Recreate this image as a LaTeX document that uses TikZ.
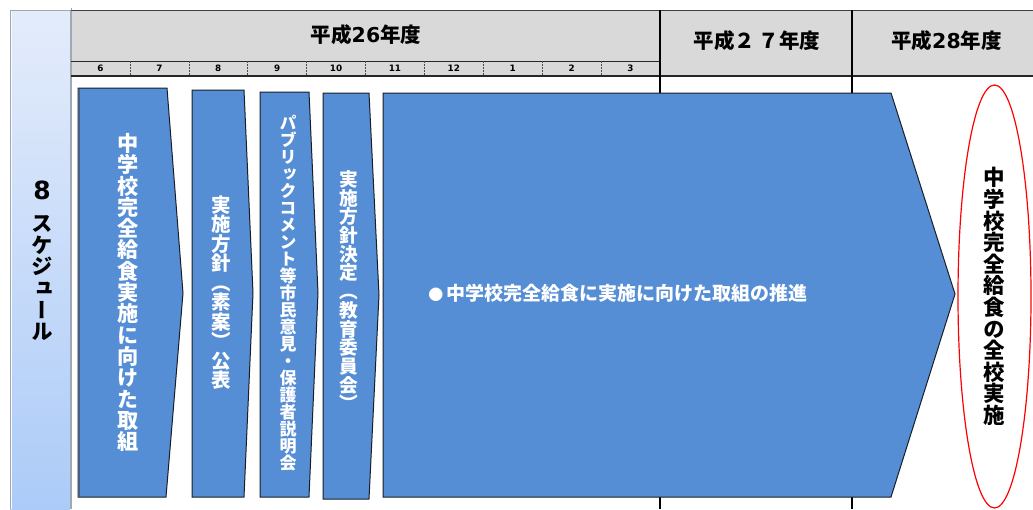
\documentclass[tikz,border=0pt]{standalone}
\usepackage{fontspec}
\setmainfont{Noto Sans CJK JP}
\newfontfamily\jpv{Noto Sans CJK JP}[RawFeature=+vert]
\newfontfamily\dvs{DejaVu Sans}
\ExplSyntaxOn
\NewDocumentCommand\vtxt{O{1em}m}{
  \vbox{\offinterlineskip
    \tl_map_inline:nn {#2} {
      \hbox_to_wd:nn {1.2em} { \hss \vbox_to_ht:nn {#1} { \vss \hbox:n { \smash{\raisebox{-0.38em}{##1}} } \vss } \hss }
    }
  }
}
\ExplSyntaxOff
\definecolor{arrowblue}{RGB}{85,142,213}
\definecolor{arrowline}{RGB}{25,30,40}
\definecolor{hgray}{RGB}{217,217,217}
\definecolor{paneltop}{RGB}{228,236,251}
\definecolor{panelbot}{RGB}{172,203,248}
\definecolor{panelline}{RGB}{160,168,178}
\tikzset{
  arrowbox/.style={fill=arrowblue, draw=arrowline, line width=1pt, line join=miter},
  vlab/.style={inner sep=0pt, text=white, font=\jpv\bfseries},
  month/.style={inner sep=0pt, font=\dvs\bfseries\fontsize{8.8}{9}\selectfont},
  yearlab/.style={inner sep=0pt, font=\bfseries\fontsize{20.5}{21}\selectfont},
}
\begin{document}
\begin{tikzpicture}[x=1pt,y=-1pt]
\useasboundingbox (0,0) rectangle (1033,509);
\fill[white] (0,0) rectangle (1033,509);
% left panel
\shade[top color=paneltop, bottom color=panelbot] (10,10) rectangle (70,509);
\draw[panelline, line width=0.8pt] (10,509) -- (10,10) -- (70,10) -- (70,509);
\draw[white!80!paneltop, line width=1.5pt] (11.5,11) -- (11.5,509);
% header
\fill[hgray] (71,10) rectangle (1033,76);
\draw[panelline, line width=1pt] (71,8) -- (71,509);
\draw[black!75, line width=1pt] (71,10) -- (1033,10);
\draw[black!85, line width=1pt] (71,61) -- (660,61);
\draw[black!85, line width=1.2pt] (71,76) -- (1033,76);
\foreach \k in {1,...,9} {
  \draw[black!70, dash pattern=on 1.5pt off 1.5pt, line width=0.6pt] ({71+58.9*\k},61) -- ({71+58.9*\k},76);
}
\draw[black, line width=1.3pt] (660,10) -- (660,509);
\draw[black, line width=1.3pt] (852,10) -- (852,509);
% month labels
\foreach \m [count=\i from 0] in {6,7,8,9,10,11,12,1,2,3} {
  \node[month] (m\i) at ({71+58.9*(\i+0.5)},68.5) {\m};
}
% year labels
\node[yearlab] (y26) at (366,35) {平成{\dvs 26}年度};
\node[yearlab] (y27) at (757,40.5) {平成２\,７年度};
\node[yearlab] (y28) at (946.5,40.5) {平成{\dvs 28}年度};
% left panel labels
\node[inner sep=0pt, font=\dvs\bfseries\fontsize{25}{25}\selectfont] (eight) at (42,190) {8};
\node[inner sep=0pt, font=\jpv\bfseries\fontsize{21.5}{21.5}\selectfont] (sched) at (42,277.5) {\vtxt[21.6pt]{スケジュール}};
% arrows
\draw[arrowbox] (78,88) -- (167,88) -- (183,293) -- (166,497) -- (78,497) -- cycle;
\draw[color={rgb,255:red,70;green,95;blue,130}, line width=2.2pt] (79.2,88.5) -- (79.2,496.5);
\draw[arrowbox] (192,90) -- (244,90) -- (253,293) -- (244,497) -- (192,497) -- cycle;
\draw[arrowbox] (260,92) -- (309,92) -- (318,293) -- (309,497) -- (260,497) -- cycle;
\draw[arrowbox] (323,93) -- (369,93) -- (379,295) -- (369,499) -- (323,499) -- cycle;
\draw[arrowbox] (383,93) -- (891,93) -- (955,294) -- (891,497) -- (383,497) -- cycle;
% arrow labels
\node[vlab, font=\jpv\bfseries\fontsize{21.2}{21.2}\selectfont] (t1) at (128,292.5) {\vtxt[21.3pt]{中学校完全給食実施に向けた取組}};
\node[vlab, font=\jpv\bfseries\fontsize{19.5}{19.5}\selectfont] (t2) at (221,292.5) {\vtxt[19.5pt]{実施方針（素案）公表}};
\node[vlab, font=\jpv\bfseries\fontsize{17}{17}\selectfont] (t3) at (288,293.5) {\vtxt[17pt]{パブリックコメント等市民意見・保護者説明会}};
\node[vlab, font=\jpv\bfseries\fontsize{18.7}{18.7}\selectfont] (t4) at (349,291.5) {\vtxt[18.7pt]{実施方針決定（教育委員会）}};
\node[inner sep=0pt, text=white, font=\bfseries\fontsize{19}{19}\selectfont] (t5) at (618,293) {{\fontsize{15}{15}\selectfont ●}\,中学校完全給食に実施に向けた取組の推進};
% goal ellipse
\draw[red, line width=1.2pt] (994.5,296.5) ellipse [x radius=36.5pt, y radius=211.5pt];
\node[inner sep=0pt, font=\jpv\bfseries\fontsize{21.5}{21.5}\selectfont] (goal) at (994.5,296.5) {\vtxt[21.6pt]{中学校完全給食の全校実施}};
\end{tikzpicture}
\end{document}
